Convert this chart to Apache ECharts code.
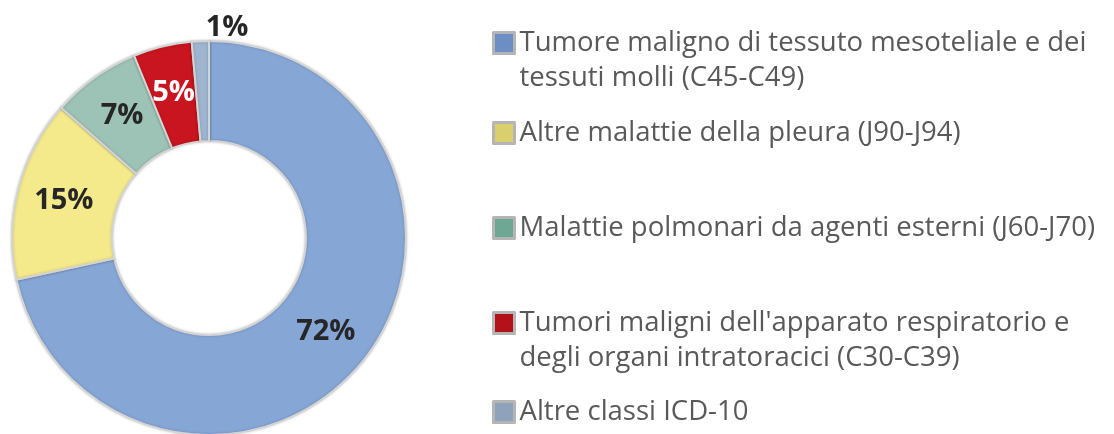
<!DOCTYPE html>
<html>
<head>
<meta charset="utf-8">
<script src="https://cdn.jsdelivr.net/npm/echarts@6/dist/echarts.min.js"></script>
<style>
  html, body { margin: 0; padding: 0; background: #fff; }
  #chart { width: 1114px; height: 434px; }
</style>
</head>
<body>
<div id="chart"></div>
<script>
// categorie (in ordine orario dalle ore 12)
var categories = [
    'Tumore maligno di tessuto mesoteliale e dei\ntessuti molli (C45-C49)',
    'Altre malattie della pleura (J90-J94)',
    'Malattie polmonari da agenti esterni (J60-J70)',
    'Tumori maligni dell\'apparato respiratorio e\ndegli organi intratoracici (C30-C39)',
    'Altre classi ICD-10'
];
// quote (%)
var values = [71.6, 14.9, 7.3, 4.8, 1.4];

var sliceColors = ['#86a6d6', '#f4ea8c', '#9cc3b5', '#c8151f', '#9fb4cf'];
var iconColors = ['#6d8ec4', '#d9cf6c', '#6fa795', '#b3121b', '#8ea2bc'];
var labelColors = ['#262626', '#262626', '#262626', '#ffffff', '#262626'];

var chart = echarts.init(document.getElementById('chart'));

// una legenda per voce, icona allineata alla prima riga
var iconTops = [43, 133, 228, 323, 412];
var legends = categories.map(function (name, i) {
    var twoLines = name.indexOf('\n') >= 0;
    return {
        orient: 'vertical',
        left: 492,
        top: iconTops[i] - (twoLines ? 52.5 : 17.5),
        padding: 0,
        itemWidth: 21,
        itemHeight: 21,
        icon: 'rect',
        data: [{
            name: name,
            itemStyle: { color: iconColors[i], borderColor: '#b5b5b5', borderWidth: 3 }
        }],
        formatter: function (n) { return n.indexOf('\n') >= 0 ? '\n' + n : n; },
        textStyle: {
            fontFamily: 'Open Sans',
            fontSize: 27.5,
            lineHeight: 35,
            color: '#595959'
        },
        selectedMode: false
    };
});

chart.setOption({
    animation: false,
    legend: legends,
    series: [{
        type: 'pie',
        center: [209, 238],
        radius: [97, 197],
        startAngle: 90,
        clockwise: true,
        avoidLabelOverlap: false,
        itemStyle: {
            borderColor: '#d4d4d4',
            borderWidth: 2,
            shadowColor: 'rgba(0,0,0,0.2)',
            shadowBlur: 3
        },
        label: {
            position: 'inside',
            fontFamily: 'Open Sans',
            fontWeight: 'bold',
            fontSize: 29,
            formatter: function (p) { return Math.round(p.percent) + '%'; }
        },
        labelLine: { show: false },
        labelLayout: function (p) {
            if (p.dataIndex === 4) return { dx: 53, dy: -13 };
        },
        data: categories.map(function (name, i) {
            var item = {
                name: name,
                value: values[i],
                itemStyle: { color: sliceColors[i] },
                label: { color: labelColors[i] }
            };
            if (i === 4) {
                item.label.position = 'outside';
                item.labelLine = { show: false, length: 0, length2: 0 };
            }
            return item;
        })
    }]
});
</script>
</body>
</html>
